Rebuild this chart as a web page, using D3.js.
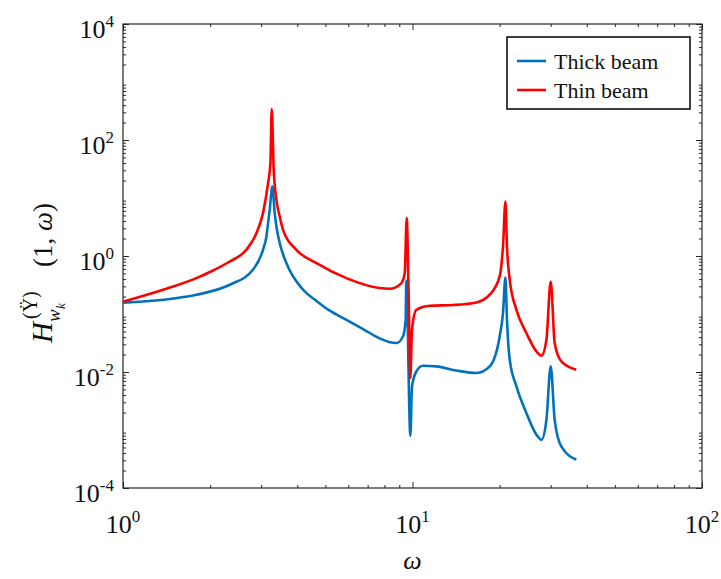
<!DOCTYPE html>
<html>
<head>
<meta charset="utf-8">
<script src="https://cdn.jsdelivr.net/npm/d3@7"></script>
<style>
  body { margin: 0; background: #fff; }
  svg text { font-family: "Liberation Serif", "Times New Roman", "DejaVu Serif", serif; }
</style>
</head>
<body>
<svg id="chart" width="721" height="579" font-family="Liberation Serif, Times New Roman, serif"></svg>
<script>
// values
var thickOmega = [1, 1.375, 1.793, 2.337, 2.81, 3.045, 3.129, 3.17, 3.212, 3.28, 3.342, 3.388, 3.478, 3.667,
                  4.19, 4.66, 5.18, 5.91, 6.75, 7.70, 8.30, 8.80, 9.27, 9.47, 9.52, 9.83, 9.96, 10.31, 10.87,
                  12.09, 14.18, 16.63, 18.48, 20.0, 20.54, 20.94, 21.2, 21.67, 22.86, 24.74, 26.79, 27.88,
                  29.01, 30.02, 30.98, 32.66, 36.8];
var thickH = [0.156, 0.176, 0.214, 0.319, 0.578, 1.28, 2.17, 3.69, 6.25, 15.7, 5.48, 3.22, 1.67, 0.755,
              0.262, 0.168, 0.114, 0.079, 0.055, 0.038, 0.033, 0.0316, 0.041, 0.0796, 0.374, 0.0008,
              0.00565, 0.0102, 0.0128, 0.0125, 0.0106, 0.0096, 0.0125, 0.041, 0.104, 0.426, 0.080, 0.0163,
              0.00565, 0.00196, 0.00083, 0.00068, 0.0015, 0.0125, 0.0015, 0.00052, 0.00031];

var thinOmega = [1, 1.375, 1.793, 2.046, 2.337, 2.667, 2.89, 3.045, 3.17, 3.23, 3.264, 3.316, 3.388, 3.478,
                 3.57, 3.97, 4.66, 5.91, 7.70, 8.34, 9.16, 9.40, 9.55, 9.70, 9.83, 9.96, 10.31, 11.47, 13.80,
                 16.63, 18.48, 20.0, 20.54, 20.94, 21.2, 21.67, 22.86, 24.74, 26.79, 27.88, 29.01, 30.02,
                 30.98, 32.66, 36.8];
var thinH = [0.163, 0.262, 0.416, 0.563, 0.804, 1.28, 2.48, 5.49, 18.0, 39.9, 340, 30.6, 9.3, 4.80, 2.83,
             1.28, 0.755, 0.416, 0.280, 0.272, 0.341, 0.507, 4.50, 0.200, 0.0079, 0.0535, 0.118, 0.139, 0.143,
             0.158, 0.215, 0.444, 1.46, 8.69, 1.46, 0.389, 0.118, 0.047, 0.0226, 0.0191, 0.036, 0.364,
             0.0316, 0.0152, 0.0109];

var seriesNames = ["Thick beam", "Thin beam"];
var seriesColors = ["#0072bd", "#ff0000"];

var xTicks = [1, 10, 100];
var xTickExp = ["0", "1", "2"];
var yTicks = [1e-4, 1e-2, 1, 1e2, 1e4];
var yTickExp = ["-4", "-2", "0", "2", "4"];

//plot box
var margin = {top: 24, left: 123, right: 19, bottom: 91},
    width = 721 - margin.left - margin.right,
    height = 579 - margin.top - margin.bottom;

var svg = d3.select("#chart");
var g = svg.append("g").attr("transform", "translate(" + margin.left + "," + margin.top + ")");

var x = d3.scaleLog().domain([1, 100]).range([0, width]);
var y = d3.scaleLog().domain([1e-4, 1e4]).range([height, 0]);

// minor tick positions: 2..9 in each decade
function minors(lo, hi) {
    var out = [];
    for (var e = lo; e < hi; e++)
        for (var k = 2; k <= 9; k++) out.push(k * Math.pow(10, e));
    return out;
}
var xMinor = minors(0, 2), yMinor = minors(-4, 4);

var axisColor = "#262626";
function styleAxis(sel) {
    sel.select(".domain").remove();
    sel.selectAll("line").attr("stroke", axisColor).attr("stroke-width", 1);
}

// ticks on all four sides, pointing inward
g.append("g").attr("transform", "translate(0," + height + ")")
 .call(d3.axisBottom(x).tickValues(xTicks).tickSize(-6).tickFormat("")).call(styleAxis);
g.append("g").attr("transform", "translate(0," + height + ")")
 .call(d3.axisBottom(x).tickValues(xMinor).tickSize(-3).tickFormat("")).call(styleAxis);
g.append("g")
 .call(d3.axisTop(x).tickValues(xTicks).tickSize(-6).tickFormat("")).call(styleAxis);
g.append("g")
 .call(d3.axisTop(x).tickValues(xMinor).tickSize(-3).tickFormat("")).call(styleAxis);
g.append("g")
 .call(d3.axisLeft(y).tickValues(yTicks).tickSize(-6).tickFormat("")).call(styleAxis);
g.append("g")
 .call(d3.axisLeft(y).tickValues(yMinor).tickSize(-3).tickFormat("")).call(styleAxis);
g.append("g").attr("transform", "translate(" + width + ",0)")
 .call(d3.axisRight(y).tickValues(yTicks).tickSize(-6).tickFormat("")).call(styleAxis);
g.append("g").attr("transform", "translate(" + width + ",0)")
 .call(d3.axisRight(y).tickValues(yMinor).tickSize(-3).tickFormat("")).call(styleAxis);

g.append("rect")
 .attr("width", width).attr("height", height)
 .attr("fill", "none").attr("stroke", axisColor).attr("stroke-width", 1.2);

// tick labels as 10^n
var xl = g.append("g").selectAll("text").data(xTicks).enter().append("text")
 .attr("x", function(d) { return x(d); })
 .attr("y", height + 45)
 .attr("text-anchor", "middle")
 .attr("font-size", 26)
 .attr("fill", "#111");
xl.append("tspan").text("10");
xl.append("tspan").attr("dy", -11).attr("font-size", 17).text(function(d, i) { return xTickExp[i]; });

var yl = g.append("g").selectAll("text").data(yTicks).enter().append("text")
 .attr("x", -9)
 .attr("y", function(d) { return y(d) + 14; })
 .attr("text-anchor", "end")
 .attr("font-size", 26)
 .attr("fill", "#111");
yl.append("tspan").text("10");
yl.append("tspan").attr("dy", -11).attr("font-size", 17).text(function(d, i) { return yTickExp[i]; });

// curves
var line = d3.line()
 .x(function(d) { return x(d[0]); })
 .y(function(d) { return y(d[1]); })
 .curve(d3.curveMonotoneX);

var series = [d3.zip(thickOmega, thickH), d3.zip(thinOmega, thinH)];
g.selectAll(".curve").data(series).enter().append("path")
 .attr("class", "curve")
 .attr("d", line)
 .attr("fill", "none")
 .attr("stroke", function(d, i) { return seriesColors[i]; })
 .attr("stroke-width", 2.6)
 .attr("stroke-linejoin", "round");

// legend
var lg = svg.append("g").attr("transform", "translate(507,37)");
lg.append("rect").attr("width", 183).attr("height", 72)
  .attr("fill", "#fff").attr("stroke", "#000").attr("stroke-width", 1.5);
var items = lg.selectAll(".item").data(seriesNames).enter().append("g")
  .attr("transform", function(d, i) { return "translate(0," + (24 + i * 29) + ")"; });
items.append("line").attr("x1", 10).attr("x2", 39)
  .attr("stroke", function(d, i) { return seriesColors[i]; }).attr("stroke-width", 2.6);
items.append("text").attr("x", 47).attr("y", 7.5)
  .attr("font-size", 22).attr("fill", "#111").text(function(d) { return d; });

// axis titles
svg.append("text")
 .attr("x", margin.left + width / 2).attr("y", 569)
 .attr("text-anchor", "middle").attr("font-size", 26).attr("font-style", "italic")
 .attr("fill", "#111").text("ω");

var yt = svg.append("g").attr("transform", "translate(52,343) rotate(-90)").attr("fill", "#111");
yt.append("text").attr("x", 0).attr("y", 0).attr("font-size", 29).attr("font-style", "italic").text("H");
yt.append("text").attr("x", 24).attr("y", -15).attr("font-size", 20).text("(Ÿ)");
yt.append("text").attr("x", 21).attr("y", 8).attr("font-size", 19).attr("font-style", "italic").text("w");
yt.append("text").attr("x", 34).attr("y", 13).attr("font-size", 13).attr("font-style", "italic").text("k");
var yt2 = yt.append("text").attr("x", 76).attr("y", 0).attr("font-size", 27);
yt2.append("tspan").text("(1, ");
yt2.append("tspan").attr("font-style", "italic").text("ω");
yt2.append("tspan").text(")");
</script>
</body>
</html>
